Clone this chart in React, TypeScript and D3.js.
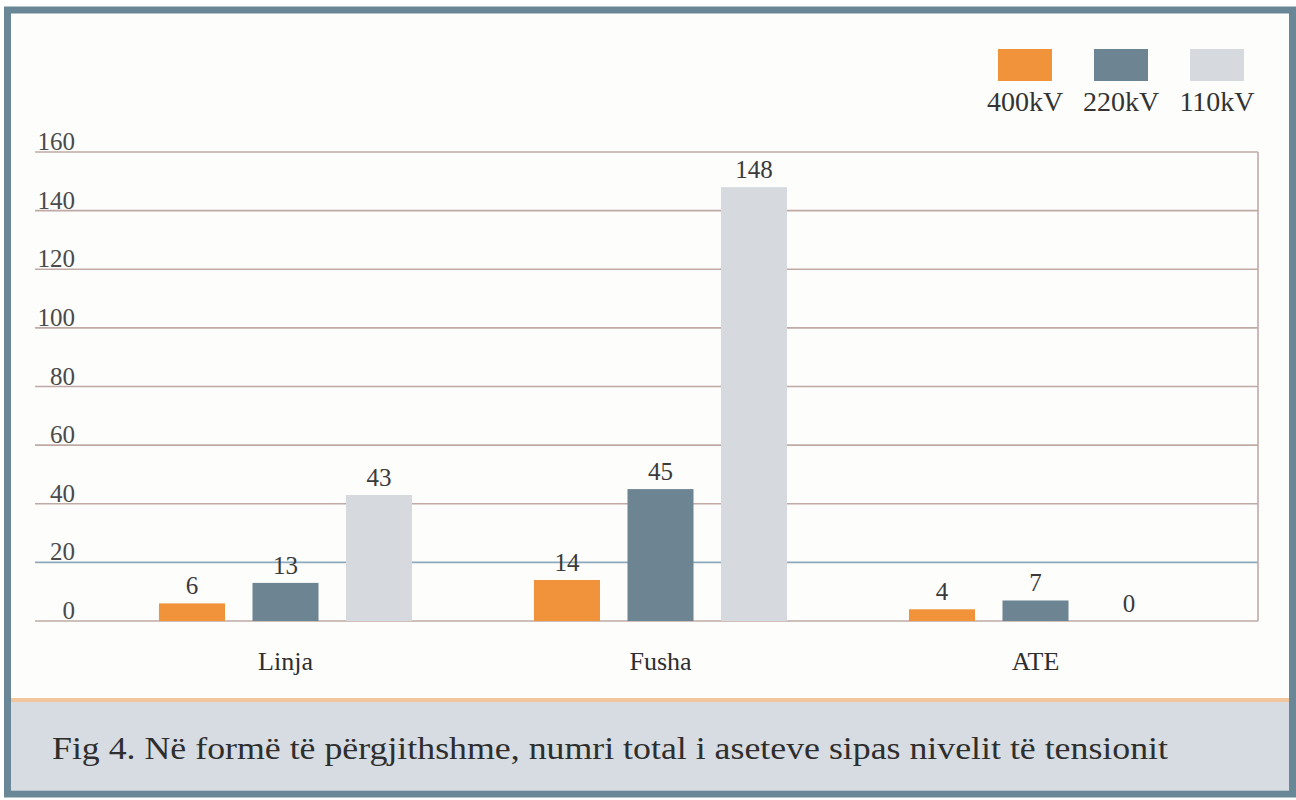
import React from "react";
import * as d3 from "d3";

const categories = ["Linja", "Fusha", "ATE"];
const seriesNames = ["400kV", "220kV", "110kV"];
const values400 = [6, 14, 4];
const values220 = [13, 45, 7];
const values110 = [43, 148, 0];
const yTicks = [0, 20, 40, 60, 80, 100, 120, 140, 160];
const caption = "Fig 4. Në formë të përgjithshme, numri total i aseteve sipas nivelit të tensionit";

const colors = ["#f0933b", "#6d8493", "#d6dade"];
const W = 1296;
const H = 800;
const FONT = "'Liberation Serif', 'DejaVu Serif', serif";

export default function App() {
  const seriesValues = [values400, values220, values110];
  const y = d3.scaleLinear().domain([0, 160]).range([621, 152]);
  const x0 = d3.scaleBand<string>().domain(categories).range([98, 1223]).padding(0);
  const x1 = d3
    .scaleBand<string>()
    .domain(seriesNames)
    .range([0, x0.bandwidth()])
    .paddingInner(0.294)
    .paddingOuter(0.652);
  const gridLeft = 35;
  const gridRight = 1258;

  return (
    <div style={{ position: "absolute", left: 0, top: 0 }}>
      <svg width={W} height={H} style={{ display: "block" }}>
        <rect x={0} y={0} width={W} height={H} fill="#ffffff" />
        {/* frame */}
        <rect x={7.5} y={10} width={1285} height={784} fill="#fdfdfc" stroke="#6a8798" strokeWidth={7} />
        {/* caption box */}
        <rect x={11} y={702} width={1278} height={88} fill="#d6dce1" />
        <rect x={11} y={698} width={1278} height={4} fill="#f2c69c" />
        <text
          x={52}
          y={759}
          fontFamily={FONT}
          fontSize={31}
          fill="#2e2e2e"
          textLength={1116}
          lengthAdjust="spacingAndGlyphs"
        >
          {caption}
        </text>

        {/* gridlines */}
        {yTicks.map((t) => (
          <line
            key={"g" + t}
            x1={gridLeft}
            x2={gridRight}
            y1={y(t)}
            y2={y(t)}
            stroke={t === 20 ? "#8eaabd" : "#bfaaa6"}
            strokeWidth={1.6}
          />
        ))}
        <line x1={gridRight} x2={gridRight} y1={y(160)} y2={y(0)} stroke="#bfaaa6" strokeWidth={1.6} />
        {yTicks.map((t) => (
          <text
            key={"t" + t}
            x={75}
            y={y(t) - 2}
            textAnchor="end"
            fontFamily={FONT}
            fontSize={25}
            fill="#4a4a4a"
          >
            {t}
          </text>
        ))}

        {/* bars */}
        {categories.map((c, ci) => (
          <g key={c} transform={`translate(${x0(c)},0)`}>
            {seriesNames.map((s, si) => {
              const v = seriesValues[si][ci];
              const bx = x1(s) as number;
              return (
                <g key={s}>
                  <rect
                    x={bx}
                    y={y(v)}
                    width={x1.bandwidth()}
                    height={y(0) - y(v)}
                    fill={colors[si]}
                  />
                  <text
                    x={bx + x1.bandwidth() / 2}
                    y={y(v) - 9}
                    textAnchor="middle"
                    fontFamily={FONT}
                    fontSize={25}
                    fill="#3a3a3a"
                  >
                    {v}
                  </text>
                </g>
              );
            })}
            <text
              x={x0.bandwidth() / 2}
              y={670}
              textAnchor="middle"
              fontFamily={FONT}
              fontSize={26}
              fill="#2e2e2e"
            >
              {c}
            </text>
          </g>
        ))}

        {/* legend */}
        {seriesNames.map((s, i) => {
          const cx = 1025 + i * 96;
          return (
            <g key={"l" + s}>
              <rect x={cx - 27} y={49} width={54} height={32} fill={colors[i]} />
              <text
                x={cx}
                y={111}
                textAnchor="middle"
                fontFamily={FONT}
                fontSize={28}
                fill="#333"
              >
                {s}
              </text>
            </g>
          );
        })}
      </svg>
    </div>
  );
}
